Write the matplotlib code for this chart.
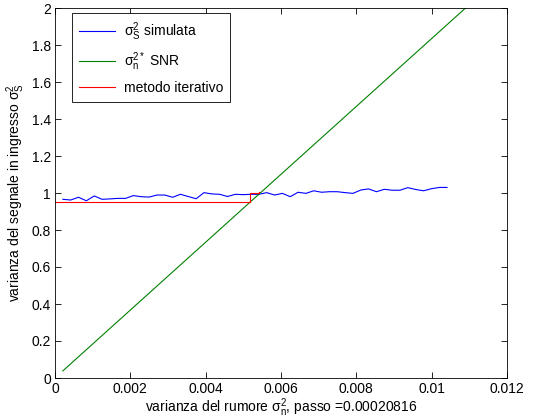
import numpy as np
import matplotlib
matplotlib.use("Agg")
import matplotlib.pyplot as plt

plt.rcParams['font.family'] = ['Liberation Sans', 'DejaVu Sans']
plt.rcParams['mathtext.fontset'] = 'custom'
plt.rcParams['mathtext.rm'] = 'Liberation Sans'
plt.rcParams['mathtext.it'] = 'Liberation Sans'
plt.rcParams['mathtext.default'] = 'regular'

# ---- data ----
step = 0.00020816
sim_index = np.arange(1, 51)
sim_values = [0.966, 0.962, 0.977, 0.958, 0.984, 0.966, 0.968, 0.971, 0.971, 0.986,
              0.980, 0.978, 0.989, 0.989, 0.977, 0.993, 0.981, 0.969, 1.002, 0.995,
              0.993, 0.981, 0.993, 0.991, 0.993, 0.993, 1.002, 0.989, 0.998, 0.980,
              1.004, 0.998, 1.012, 1.004, 1.007, 1.007, 1.002, 0.998, 1.016, 1.022,
              1.007, 1.020, 1.015, 1.015, 1.029, 1.019, 1.012, 1.023, 1.030, 1.030]
snr_x = [0.00020816, 0.0109]
snr_y = [0.0385, 2.0]
iter_x = [0.0, 0.00517, 0.00517, 0.00541, 0.00541]
iter_y = [0.951, 0.951, 0.999, 0.999, 1.008]

labels = [r'$\sigma_S^2$ simulata', r'$\sigma_n^{2*}$ SNR', 'metodo iterativo']
xticks = [0, 0.002, 0.004, 0.006, 0.008, 0.01, 0.012]
xticklabels = ['0', '0.002', '0.004', '0.006', '0.008', '0.01', '0.012']
yticks = [0, 0.2, 0.4, 0.6, 0.8, 1, 1.2, 1.4, 1.6, 1.8, 2]
yticklabels = ['0', '0.2', '0.4', '0.6', '0.8', '1', '1.2', '1.4', '1.6', '1.8', '2']

sim_x = step * sim_index

fig = plt.figure(figsize=(5.42, 4.18), dpi=100)
ax = fig.add_axes([55/542, 40/418, 452/542, 370/418])

ax.plot(sim_x, sim_values, color=(0, 0, 1), lw=0.8, label=labels[0])
ax.plot(snr_x, snr_y, color=(0, 0.5, 0), lw=0.8, label=labels[1])
ax.plot(iter_x, iter_y, color=(1, 0, 0), lw=0.8, label=labels[2])

ax.set_xlim(0, 0.012)
ax.set_ylim(0, 2)
ax.set_xticks(xticks)
ax.set_xticklabels(xticklabels)
ax.set_yticks(yticks)
ax.set_yticklabels(yticklabels)
ax.tick_params(direction='in', top=True, right=True, length=4, width=0.6,
               labelsize=10, pad=3)
for s in ax.spines.values():
    s.set_linewidth(0.6)

ax.set_xlabel(r'varianza del rumore $\sigma_n^2$, passo =0.00020816', fontsize=10, labelpad=0)
ax.set_ylabel(r'varianza del segnale in ingresso $\sigma_S^2$', fontsize=10, labelpad=3)

leg = ax.legend(loc='upper left', bbox_to_anchor=(0.038, 0.986), fontsize=10,
                fancybox=False, edgecolor='black', framealpha=1,
                handlelength=2.6, handletextpad=0.6, borderpad=0.5,
                labelspacing=0.55, borderaxespad=0)
leg.get_frame().set_linewidth(0.6)

fig.savefig('out.png', dpi=100)
